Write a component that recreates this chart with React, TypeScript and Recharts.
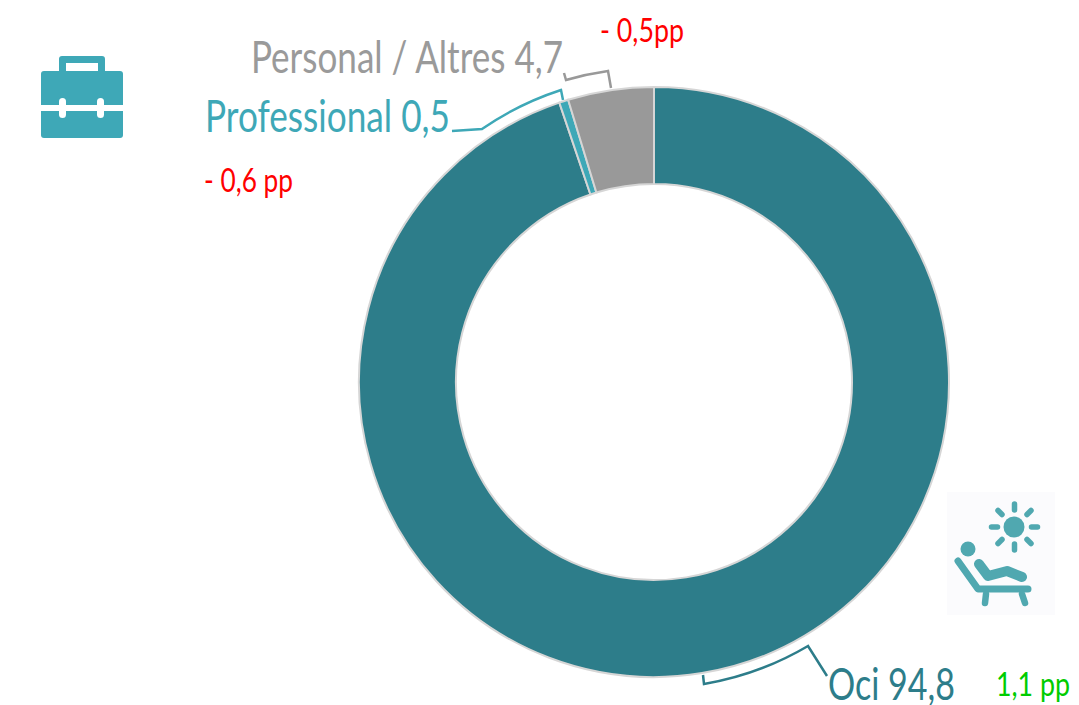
import React from "react";
import { PieChart, Pie, Cell, Customized } from "recharts";

const categories = ["Oci", "Professional", "Personal / Altres"];
const shares = [94.8, 0.5, 4.7];
const colors = ["#2d7d8a", "#3ea8b7", "#999999"];
const data = categories.map((name, i) => ({ name, value: shares[i] }));

const font = "Lato, 'Open Sans', sans-serif";

// text label, squeezed to the width it has in the picture
const Label = ({ x, y, w, size, fill, children }: any) => (
    <text
        x={x}
        y={y}
        fontSize={size}
        fill={fill}
        fontFamily={font}
        textLength={w}
        lengthAdjust="spacingAndGlyphs"
    >
        {children}
    </text>
);

const Briefcase = () => (
    <g>
        <path
            d="M62 56 H102 Q105 56 105 59 V72 H98 V63 H66 V72 H59 V59 Q59 56 62 56 Z"
            fill="#3ea8b7"
        />
        <rect x={41} y={71} width={82} height={67} rx={3} fill="#3ea8b7" />
        <rect x={41} y={105} width={82} height={6} fill="#fff" />
        <rect x={59} y={98} width={7} height={20} rx={3.5} fill="#fff" />
        <rect x={97} y={98} width={7} height={20} rx={3.5} fill="#fff" />
    </g>
);

const Sunbather = () => {
    const c = "#50a8b0";
    return (
        <g>
            <rect x={947} y={492} width={108} height={123} fill="#fbfbfd" />
            <circle cx={1014} cy={527} r={10.5} fill={c} />
            <g stroke={c} strokeWidth={5.5} strokeLinecap="round" fill="none">
                <path d="M1014.5 504 V510" />
                <path d="M1014.5 544 V550" />
                <path d="M991.5 527 H997.5" />
                <path d="M1031.5 527 H1037.5" />
                <path d="M998 510.5 L1002 514.5" />
                <path d="M1031 510.5 L1027 514.5" />
                <path d="M998 543.5 L1002 539.5" />
                <path d="M1031 543.5 L1027 539.5" />
            </g>
            <circle cx={968} cy={549} r={7.5} fill={c} />
            <g stroke={c} fill="none" strokeLinecap="round" strokeLinejoin="round">
                <path d="M958 561 L978 589 H1028" strokeWidth={7} />
                <path d="M986 594 L985 603" strokeWidth={6.5} />
                <path d="M1022 594 L1025 603" strokeWidth={6.5} />
                <path d="M979 564 L988 576 L1007 571 L1022 577" strokeWidth={10} />
            </g>
        </g>
    );
};

const Annotations = () => (
    <g>
        <Briefcase />
        <Sunbather />
        <g fill="none" strokeWidth={2.5}>
            <path d="M611 88 L608 71 A306 306 0 0 0 566 80 L564 73" stroke="#999999" />
            <path d="M563 100 L561 90 A306 306 0 0 0 482 129 L452 131" stroke="#3ea8b7" />
            <path d="M703 675 L704 684 A306 306 0 0 0 808 646 L827 676" stroke="#2d7d8a" />
        </g>
        <Label x={251} y={73} w={312} size={44} fill="#9a9a9a">Personal / Altres 4,7</Label>
        <Label x={205} y={132} w={245} size={44} fill="#3ea8b7">Professional 0,5</Label>
        <Label x={828} y={700} w={127} size={44} fill="#2d7d8a">Oci 94,8</Label>
        <Label x={204} y={192} w={89} size={32} fill="#ff0000">- 0,6 pp</Label>
        <Label x={600} y={42} w={84} size={32} fill="#ff0000">- 0,5pp</Label>
        <Label x={996} y={696} w={74} size={32} fill="#00cc00">1,1 pp</Label>
    </g>
);

export default function App() {
    return (
        <div style={{ position: "absolute", left: 0, top: 0 }}>
            <PieChart width={1079} height={705} margin={{ top: 0, right: 0, bottom: 0, left: 0 }}>
                <Pie
                    data={data}
                    dataKey="value"
                    nameKey="name"
                    cx={654}
                    cy={382}
                    innerRadius={198}
                    outerRadius={295}
                    startAngle={90}
                    endAngle={-270}
                    stroke="#d6d6d6"
                    strokeWidth={2}
                    isAnimationActive={false}
                >
                    {data.map((d, i) => (
                        <Cell key={d.name} fill={colors[i]} />
                    ))}
                </Pie>
                <Customized component={Annotations} />
            </PieChart>
        </div>
    );
}
